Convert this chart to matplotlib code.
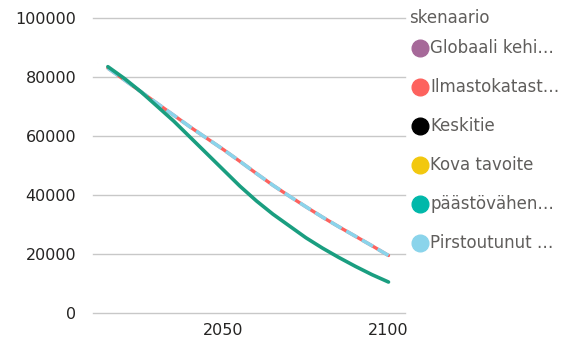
"""
Skenaariot: päästökehitys 2015-2100
"""
import matplotlib
matplotlib.use('Agg')
import matplotlib.pyplot as plt

plt.rcParams['font.family'] = ['DejaVu Sans']

years = [2015, 2020, 2025, 2030, 2035, 2040, 2045, 2050, 2055, 2060,
         2065, 2070, 2075, 2080, 2085, 2090, 2095, 2100]
paastovahennys = [83500, 79500, 75000, 70000, 65000, 59500, 54000, 48500, 43000, 38000,
                  33500, 29500, 25500, 22000, 18800, 15800, 13000, 10500]
ilmastokatastrofi = [83000, 79000, 75000, 71000, 67000, 63000, 59200, 55400, 51400, 47300,
                     43300, 39600, 36000, 32500, 29200, 26000, 22800, 19500]
pirstoutunut = list(ilmastokatastrofi)

legend_names = ['Globaali kehi…', 'Ilmastokatast…', 'Keskitie', 'Kova tavoite',
                'päästövähen…', 'Pirstoutunut …']
legend_colors = ['#A66999', '#FD625E', '#000000', '#F2C80F', '#01B8AA', '#8AD4EB']

W, H = 576, 342
fig = plt.figure(figsize=(W / 100, H / 100), dpi=100)
ax = fig.add_axes([93 / W, 1 - 313 / H, 312 / W, 295 / H])

ax.plot(years, ilmastokatastrofi, color='#FD625E', linewidth=2.4, zorder=2,
        solid_capstyle='round')
ax.plot(years, pirstoutunut, color='#8AD4EB', linewidth=2.6, linestyle=(0, (3.5, 1.5)),
        zorder=3)
ax.plot(years, paastovahennys, color='#1A9E80', linewidth=2.6, zorder=4,
        solid_capstyle='round')

ax.set_xlim(2010.5, 2105)
ax.set_ylim(0, 100000)
ax.set_yticks(range(0, 100001, 20000))
ax.set_xticks([2050, 2100])
ax.grid(True, axis='y', color='#c8c8c8', linewidth=1)
for gl in ax.get_ygridlines():
    gl.set_clip_on(False)
ax.set_axisbelow(True)
for s in ax.spines.values():
    s.set_visible(False)
ax.tick_params(length=0, labelsize=11.5, colors='#252423')
ax.tick_params(axis='y', pad=12)
ax.tick_params(axis='x', pad=7)

# legend drawn by hand to follow the original spacing
fig.text(409 / W, 1 - 18 / H, 'skenaario', fontsize=12, color='#605E5C',
         ha='left', va='center')
for i, (name, col) in enumerate(zip(legend_names, legend_colors)):
    y = 1 - (48 + 39 * i) / H
    fig.lines.append(plt.Line2D([420 / W], [y], marker='o', markersize=12,
                                markerfacecolor=col, markeredgecolor=col,
                                linestyle='', transform=fig.transFigure))
    fig.text(430 / W, y, name, fontsize=12, color='#605E5C', ha='left', va='center')

plt.savefig('out.png', dpi=100)
